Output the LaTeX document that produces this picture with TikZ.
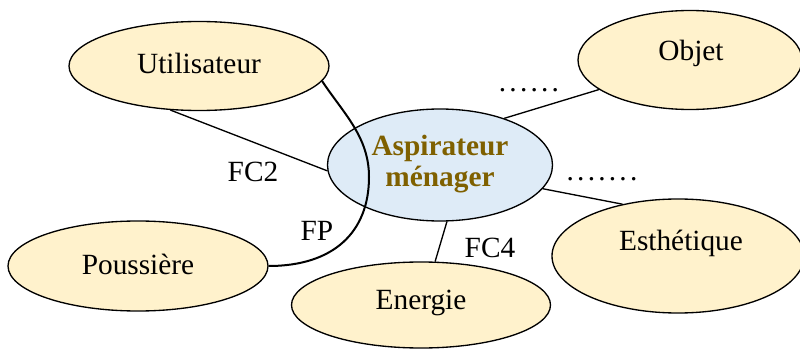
\documentclass[tikz,border=0pt]{standalone}
\usepackage{fontspec}
\setmainfont{Liberation Serif}
\usetikzlibrary{shapes.geometric}
\definecolor{ellyellow}{HTML}{FFF2CC}
\definecolor{ellblue}{HTML}{DEEBF7}
\definecolor{brownt}{HTML}{7F6000}
\tikzset{
  ell/.style={ellipse, draw=black, line width=1pt, fill=ellyellow, inner sep=0pt},
  txt/.style={font=\fontsize{22}{24}\selectfont, inner sep=0pt},
  dots/.style={font=\fontsize{22}{24}\selectfont\addfontfeature{LetterSpace=11}, inner sep=0pt},
  conn/.style={line width=1pt},
}
\begin{document}
\begin{tikzpicture}[x=0.75pt,y=-0.75pt]
\useasboundingbox (0,0) rectangle (800,349);
% ellipses
\node[ell, minimum width=260*0.75pt, minimum height=89*0.75pt] (u) at (199,66) {};
\node[ell, minimum width=260*0.75pt, minimum height=90*0.75pt] (p) at (138,266) {};
\node[ell, fill=ellblue, minimum width=225*0.75pt, minimum height=112*0.75pt] (a) at (440,165) {};
\node[ell, minimum width=259*0.75pt, minimum height=86*0.75pt] (e) at (421,305) {};
\node[ell, minimum width=224*0.75pt, minimum height=99*0.75pt] (o) at (690,60) {};
\node[ell, minimum width=252*0.75pt, minimum height=114*0.75pt] (s) at (678,256) {};
% texts
\node[txt] (ut) at (199,63) {Utilisateur};
\node[txt] (pt) at (138,264) {Poussière};
\node[txt, text=brownt, font=\fontsize{22}{23.5}\selectfont\bfseries, align=center] (at) at (440,164) {Aspirateur\\ménager};
\node[txt] (et) at (421,303) {Energie};
\node[txt] (ot) at (691,53) {Objet};
\node[txt] (st) at (681,243) {Esthétique};
% connectors
\draw[conn] (u.-123) -- (a.183);
\draw[conn] (a.36) -- (o.198);
\draw[conn] (a.-13) -- (s.137);
\draw[conn] (a.-83) -- (e.72);
\coordinate (fpm) at (369,177);
\draw[line width=1.5pt] (u.-7) .. controls +(22,33) and +(0,-40) .. (fpm)
  .. controls +(0,55) and +(65,0) .. (p.east);
% labels
\node[txt] (fc2) at (253,172) {FC2};
\node[txt] (fp) at (317,231) {FP};
\node[txt] (fc4) at (490,248) {FC4};
\node[dots] (d1) at (529,90) {......};
\node[dots] (d2) at (602,179) {.......};
\end{tikzpicture}
\end{document}
